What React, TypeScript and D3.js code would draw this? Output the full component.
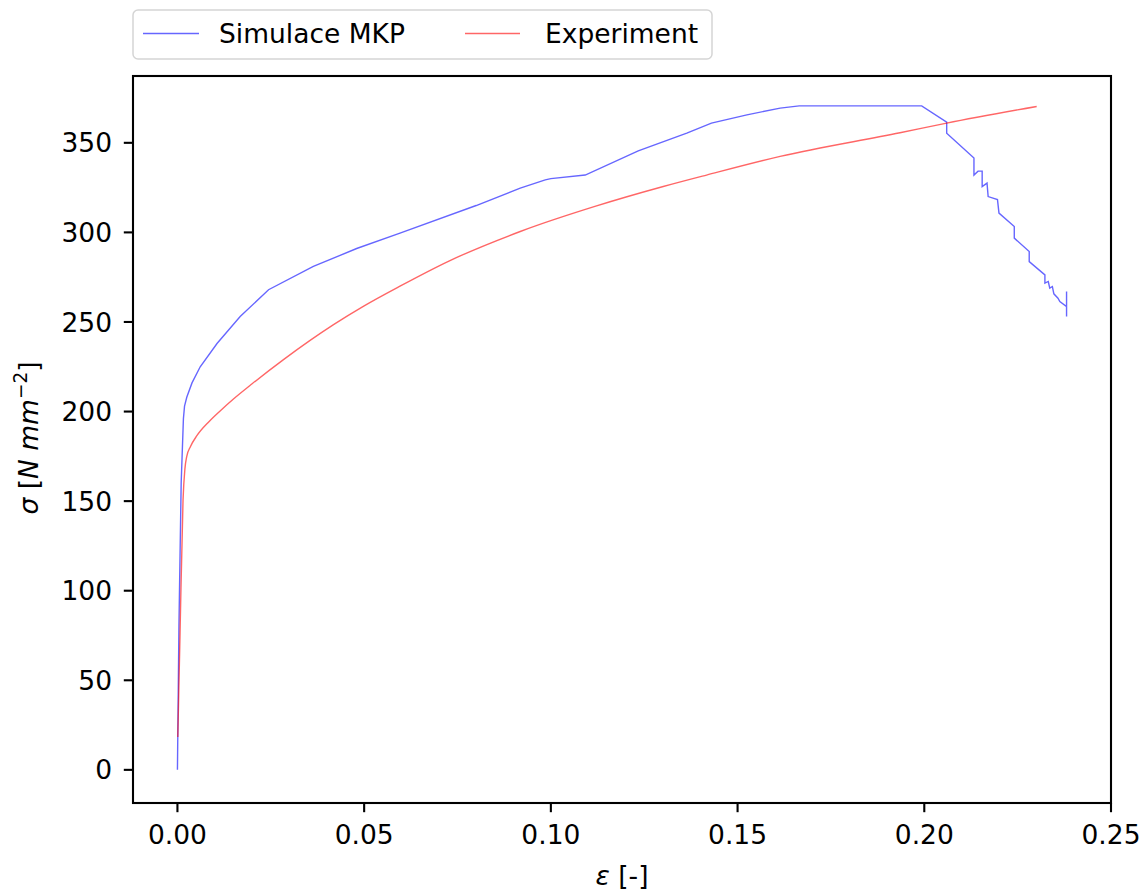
import React from "react";
import * as d3 from "d3";

const simStrain = [0, 0.0004, 0.001, 0.0016, 0.0019, 0.0025, 0.0039, 0.0061, 0.0106, 0.0168, 0.0244, 0.0364, 0.048, 0.0596, 0.08, 0.0918, 0.0985, 0.1, 0.1092, 0.1234, 0.1364, 0.143, 0.1525, 0.1614, 0.1665, 0.1993, 0.206, 0.206, 0.2133, 0.2133, 0.2144, 0.2155, 0.2155, 0.2168, 0.2171, 0.2196, 0.22, 0.2241, 0.2241, 0.2281, 0.2281, 0.2323, 0.2323, 0.2332, 0.2336, 0.2343, 0.2347, 0.2358, 0.2363, 0.2381, 0.2381, 0.2381];
const simStress = [0, 80, 160, 196, 203, 208, 216, 225, 238, 253, 268, 281, 291, 299.6, 315, 324.7, 329.3, 330, 332, 345.5, 355.4, 361, 365.6, 369.4, 370.6, 370.6, 361.6, 355.4, 341.5, 332, 334.2, 334.2, 325.6, 327.5, 320, 318.3, 310.8, 303.3, 296.8, 289.3, 283.7, 276.3, 271.7, 272.6, 268.9, 269.8, 265.7, 263.3, 261.4, 258.6, 267, 253];

const expStrain = [0.0001, 0.0007, 0.0015, 0.002, 0.0025, 0.0035, 0.0052, 0.0085, 0.0115, 0.015, 0.02, 0.0284, 0.0418, 0.05, 0.0596, 0.0727, 0.0918, 0.1118, 0.1301, 0.1417, 0.1614, 0.1935, 0.206, 0.2301];
const expStress = [18.4, 76.5, 150.7, 168, 175, 180.5, 186.5, 194.5, 200.5, 207, 215.5, 229, 248.5, 259, 270, 284, 300.5, 314.5, 325.6, 332, 342.4, 355.6, 361, 370.3];

const xTicks = [0, 0.05, 0.1, 0.15, 0.2, 0.25];
const yTicks = [0, 50, 100, 150, 200, 250, 300, 350];
const seriesNames = ["Simulace MKP", "Experiment"];

const W = 1148, H = 896;
const L = 133, R = 1111, T = 76, B = 803;
const FONT = "DejaVu Sans";
const FS = 26.5;

export default function App() {
  const x = d3.scaleLinear().domain([-0.0119, 0.25]).range([L, R]);
  const y = d3.scaleLinear().domain([-18.5, 387.3]).range([B, T]);
  const line = d3.line<[number, number]>().x(d => x(d[0])).y(d => y(d[1]));
  const smooth = d3.line<[number, number]>().x(d => x(d[0])).y(d => y(d[1])).curve(d3.curveMonotoneX);
  const sim = simStrain.map((e, i) => [e, simStress[i]] as [number, number]);
  const exp = expStrain.map((e, i) => [e, expStress[i]] as [number, number]);
  const blue = "rgba(0,0,255,0.6)";
  const red = "rgba(255,0,0,0.6)";
  const tickLen = 9.2;
  return (
    <svg width={W} height={H} style={{ position: "absolute", left: 0, top: 0, background: "#fff" }} fontFamily={FONT}>
      <rect x={0} y={0} width={W} height={H} fill="#fff" />
      <defs>
        <clipPath id="plotclip"><rect x={L} y={T} width={R - L} height={B - T} /></clipPath>
      </defs>
      <g clipPath="url(#plotclip)">
        <path d={line(sim) || ""} fill="none" stroke={blue} strokeWidth={1.4} strokeLinejoin="miter" />
        <path d={smooth(exp) || ""} fill="none" stroke={red} strokeWidth={1.4} />
      </g>
      <rect x={L} y={T} width={R - L} height={B - T} fill="none" stroke="#000" strokeWidth={2.1} />
      {xTicks.map(t => (
        <g key={"x" + t}>
          <line x1={x(t)} x2={x(t)} y1={B} y2={B + tickLen} stroke="#000" strokeWidth={2.1} />
          <text x={x(t)} y={844} textAnchor="middle" fontSize={FS} fill="#000">{d3.format(".2f")(t)}</text>
        </g>
      ))}
      {yTicks.map(t => (
        <g key={"y" + t}>
          <line x1={L - tickLen} x2={L} y1={y(t)} y2={y(t)} stroke="#000" strokeWidth={2.1} />
          <text x={112} y={y(t)} dy="0.36em" textAnchor="end" fontSize={FS} fill="#000">{t}</text>
        </g>
      ))}
      <text x={622} y={885} textAnchor="middle" fontSize={FS} fill="#000">
        <tspan fontStyle="italic">ε</tspan><tspan> [-]</tspan>
      </text>
      <text transform={`translate(38,438) rotate(-90)`} textAnchor="middle" fontSize={FS} fill="#000">
        <tspan fontStyle="italic">σ</tspan>
        <tspan> [</tspan>
        <tspan fontStyle="italic">N</tspan>
        <tspan> </tspan>
        <tspan fontStyle="italic">mm</tspan>
        <tspan fontSize={FS * 0.7} dy={-11}>−2</tspan>
        <tspan dy={11}>]</tspan>
      </text>
      <rect x={133} y={10} width={579} height={49} rx={5} fill="#fff" stroke="#d5d5d5" strokeWidth={1.5} />
      <line x1={143} x2={199} y1={33.5} y2={33.5} stroke={blue} strokeWidth={1.6} />
      <text x={219} y={33.5} dy="0.36em" fontSize={FS} fill="#000">{seriesNames[0]}</text>
      <line x1={465} x2={520} y1={33.5} y2={33.5} stroke={red} strokeWidth={1.6} />
      <text x={545} y={33.5} dy="0.36em" fontSize={FS} fill="#000">{seriesNames[1]}</text>
    </svg>
  );
}
